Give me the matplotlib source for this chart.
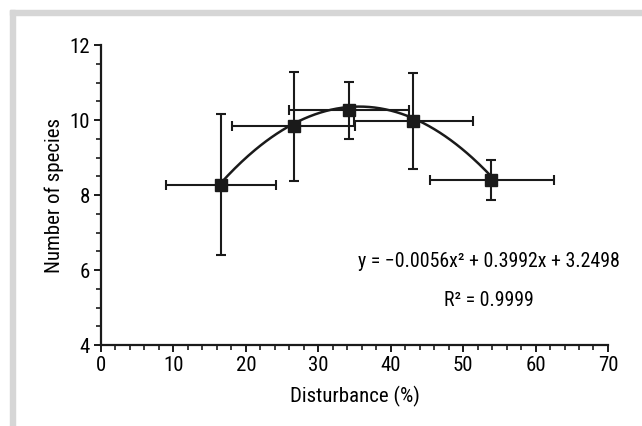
import matplotlib
matplotlib.use("Agg")
import matplotlib.pyplot as plt
import numpy as np
from matplotlib.ticker import MultipleLocator
from matplotlib import font_manager

# Data
disturbance = np.array([16.6, 26.6, 34.2, 43.1, 53.9])
species = np.array([8.27, 9.84, 10.26, 9.98, 8.41])
x_err_low = np.array([7.6, 8.5, 8.2, 8.1, 8.5])
x_err_high = np.array([7.5, 8.5, 8.3, 8.2, 8.6])
y_err_low = np.array([1.87, 1.45, 0.75, 1.28, 0.53])
y_err_high = np.array([1.90, 1.46, 0.75, 1.28, 0.53])

# Quadratic trendline printed on the chart
coef_a, coef_b, coef_c = -0.0056, 0.3992, 3.2498

# pick a narrow family if one is present
installed = {f.name for f in font_manager.fontManager.ttflist}
family = 'DejaVu Sans'
for name in ['Liberation Sans Narrow', 'Roboto Condensed', 'Open Sans Condensed',
             'DejaVu Sans Condensed', 'Liberation Sans']:
    if name in installed:
        family = name
        break
plt.rcParams['font.family'] = [family, 'DejaVu Sans']
plt.rcParams['font.size'] = 15

fig = plt.figure(figsize=(6.42, 4.26), dpi=100)
ax = fig.add_axes([0.1573, 0.190, 0.7897, 0.7037])

# light grey frame (top and left edges)
fig.patches.append(plt.Rectangle((10 / 642, 1 - 15 / 426), 1, 5 / 426,
                                 transform=fig.transFigure, color='#d6d6d6', zorder=0))
fig.patches.append(plt.Rectangle((10 / 642, 0), 5 / 642, 1 - 10 / 426,
                                 transform=fig.transFigure, color='#d6d6d6', zorder=0))

xs = np.linspace(disturbance.min(), disturbance.max(), 200)
ax.plot(xs, coef_a * xs ** 2 + coef_b * xs + coef_c, color='#1a1a1a', lw=1.8, zorder=2)

ax.errorbar(disturbance, species,
            xerr=[x_err_low, x_err_high], yerr=[y_err_low, y_err_high],
            fmt='s', color='#1a1a1a', ms=9, elinewidth=1.5, capsize=3.5,
            capthick=1.5, zorder=3)

ax.set_xlim(0, 70)
ax.set_ylim(4, 12)
ax.xaxis.set_major_locator(MultipleLocator(10))
ax.xaxis.set_minor_locator(MultipleLocator(2))
ax.yaxis.set_major_locator(MultipleLocator(2))
ax.yaxis.set_minor_locator(MultipleLocator(0.5))

for side in ['top', 'right']:
    ax.spines[side].set_visible(False)
for side in ['left', 'bottom']:
    ax.spines[side].set_linewidth(1.6)
    ax.spines[side].set_color('#1a1a1a')

ax.tick_params(which='major', length=5, width=1.4, color='#1a1a1a', pad=3)
ax.tick_params(which='minor', length=3.5, width=1.2, color='#1a1a1a')

ax.set_xlabel('Disturbance (%)', labelpad=8)
ax.set_ylabel('Number of species', labelpad=4)

ax.text(53.6, 6.22, 'y = \u22120.0056x\u00b2 + 0.3992x + 3.2498', ha='center', va='center',
        fontsize=14.3)
ax.text(53.6, 5.18, 'R\u00b2 = 0.9999', ha='center', va='center', fontsize=14.3)

fig.savefig('out.png', dpi=100)
